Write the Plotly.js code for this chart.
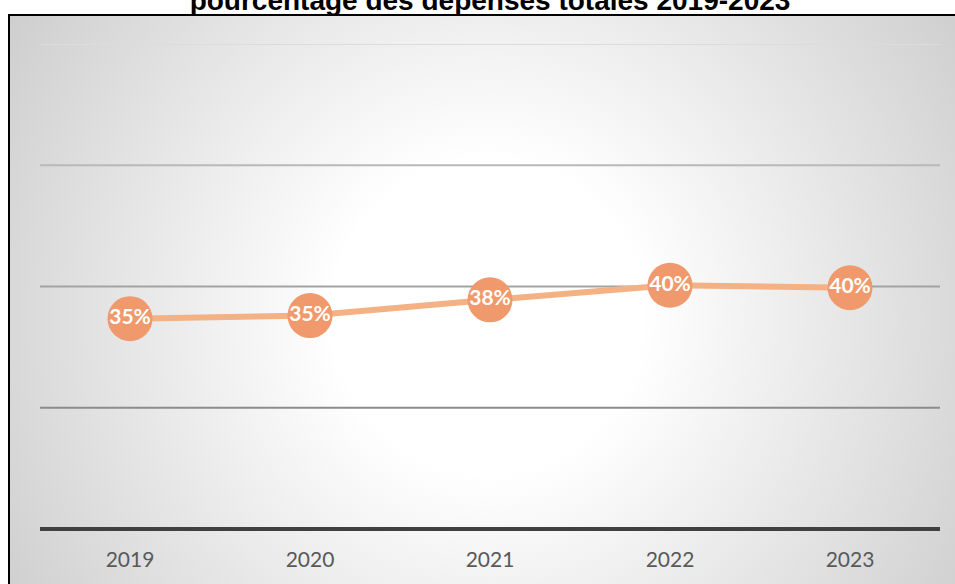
<!DOCTYPE html>
<html>
<head>
<meta charset="utf-8">
<script src="https://cdn.plot.ly/plotly-3.0.1.min.js"></script>
<style>
  html, body { margin: 0; padding: 0; background: #ffffff; width: 955px; height: 584px; overflow: hidden; }
  #frame {
    position: absolute; left: 8px; top: 14px; width: 960px; height: 580px;
    border-left: 2px solid #000; border-top: 2px solid #000;
    background: radial-gradient(ellipse 590px 600px at 478px 300px, #ffffff 0%, #ffffff 26%, #cbcbcb 100%);
  }
  #chart { position: absolute; left: 0; top: 0; width: 955px; height: 584px; }
</style>
</head>
<body>
<div id="frame"></div>
<div id="chart"></div>
<script>
// Data
const years = ["2019", "2020", "2021", "2022", "2023"];
const shares = [0.347, 0.352, 0.378, 0.402, 0.398];
const labels = ["35%", "35%", "38%", "40%", "40%"];
const gridValues = [0.2, 0.4, 0.6, 0.8];
const gridColors = ["#8c8c8c", "#a3a3a3", "#b9b9b9", "#dcdcdc"];
const titleText = "pourcentage des dépenses totales 2019-2023";

const trace = {
  type: "scatter",
  mode: "lines+markers+text",
  x: years,
  y: shares,
  text: labels,
  textposition: "middle center",
  textfont: { family: "Lato, 'Open Sans', sans-serif", size: 21, color: "#ffffff", weight: "bold" },
  line: { color: "#F4B183", width: 6 },
  marker: { size: 45, color: "#F0996C", line: { width: 0 } },
  cliponaxis: false,
  hoverinfo: "skip"
};

const shapes = gridValues.map((v, i) => ({
  type: "line", xref: "paper", yref: "y", x0: 0, x1: 1, y0: v, y1: v,
  line: { color: gridColors[i], width: 2 }, layer: "below"
}));

const layout = {
  width: 955, height: 584,
  paper_bgcolor: "rgba(0,0,0,0)",
  plot_bgcolor: "rgba(0,0,0,0)",
  margin: { l: 40, r: 15, t: 44, b: 57.3, pad: 0 },
  showlegend: false,
  title: {
    text: "<b>" + titleText + "</b>",
    x: 490 / 955, xanchor: "center", xref: "container",
    y: 0.999, yanchor: "middle", yref: "container",
    font: { family: "'Liberation Sans', Arial, sans-serif", size: 28, color: "#000000" }
  },
  xaxis: {
    type: "category",
    range: [-0.5, 4.5],
    autorange: false,
    showgrid: false, zeroline: false,
    showline: true, linecolor: "#404040", linewidth: 4,
    ticks: "", ticklabelstandoff: 11,
    tickfont: { family: "Lato, 'Open Sans', sans-serif", size: 21, color: "#595959" },
    fixedrange: true
  },
  yaxis: {
    range: [0.0033, 0.8],
    autorange: false,
    showgrid: false, zeroline: false, showline: false,
    showticklabels: false, ticks: "",
    fixedrange: true
  },
  shapes: shapes
};

Plotly.newPlot("chart", [trace], layout, { displayModeBar: false, staticPlot: true });
</script>
</body>
</html>
